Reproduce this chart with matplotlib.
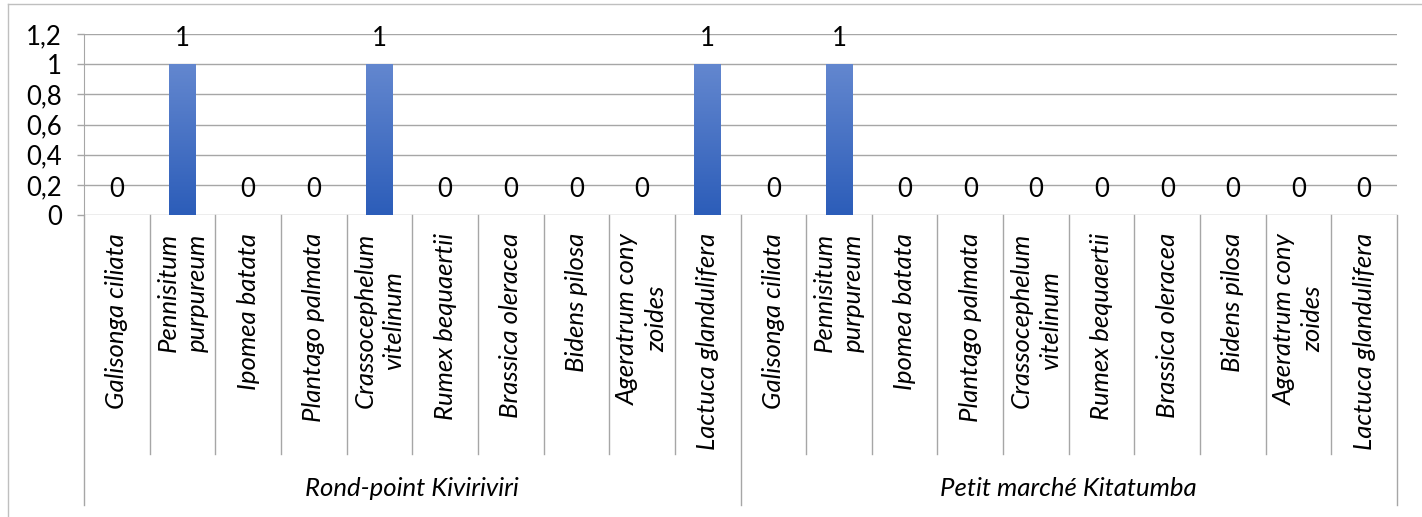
import matplotlib
matplotlib.use("Agg")
import matplotlib.pyplot as plt
import numpy as np
from matplotlib.lines import Line2D
from matplotlib.colors import LinearSegmentedColormap

plt.rcParams['font.family'] = ['Lato', 'DejaVu Sans']

species = ["Galisonga ciliata", "Pennisitum\npurpureum", "Ipomea batata", "Plantago palmata",
           "Crassocephelum\nvitelinum", "Rumex bequaertii", "Brassica oleracea", "Bidens pilosa",
           "Ageratrum cony\nzoides", "Lactuca glandulifera"]
groups = ["Rond-point Kiviriviri", "Petit marché Kitatumba"]
values_rond = [0, 1, 0, 0, 1, 0, 0, 0, 0, 1]
values_petit = [0, 1, 0, 0, 0, 0, 0, 0, 0, 0]
yticks = [0, 0.2, 0.4, 0.6, 0.8, 1.0, 1.2]
ytick_labels = ["0", "0,2", "0,4", "0,6", "0,8", "1", "1,2"]

W, H = 1422, 517
fig = plt.figure(figsize=(W / 100, H / 100), dpi=100)
L, R, T, B = 84, 1397, 34, 215
ax = fig.add_axes([L / W, 1 - B / H, (R - L) / W, (B - T) / H])

cats = species + species
vals = values_rond + values_petit
n = len(cats)
x = np.arange(n)
grid_c = "#A6A6A6"

bars = ax.bar(x, vals, width=0.41, color="#4472C4", zorder=3)
grad = np.linspace(0, 1, 256).reshape(-1, 1)
cmap = LinearSegmentedColormap.from_list("g", ["#2C5DB9", "#6387CF"])
for b, v in zip(bars, vals):
    if v > 0:
        x0, w = b.get_x(), b.get_width()
        im = ax.imshow(grad, cmap=cmap, extent=[x0, x0 + w, 0, v], origin="lower",
                       aspect="auto", zorder=4)
        im.set_clip_path(b)
        b.set_alpha(0)

for xi, v in zip(x, vals):
    ax.annotate(str(v), (xi, v), xytext=(0, 13), textcoords="offset points",
                ha="center", va="baseline", fontsize=18.5, color="black", zorder=5)

ax.set_xlim(-0.5, n - 0.5)
ax.set_ylim(0, 1.2)
ax.set_yticks(yticks)
ax.set_yticklabels(ytick_labels, fontsize=18.5)
ax.tick_params(axis="y", length=5, color=grid_c, pad=11, width=1)
ax.set_xticks([])
for yv in yticks:
    ax.axhline(yv, color=grid_c, lw=1, zorder=1)
for s in ["top", "right", "bottom"]:
    ax.spines[s].set_visible(False)
ax.spines["left"].set_color(grid_c)

tr = ax.get_xaxis_transform()
sep_short = -(454 - B) / (B - T)
sep_long = -(505 - B) / (B - T)
for i in range(n + 1):
    yb = sep_long if i in (0, 10, 20) else sep_short
    ax.add_line(Line2D([i - 0.5, i - 0.5], [0, yb], transform=tr, color=grid_c,
                       lw=1, clip_on=False))

lab_top = -(233 - B) / (B - T)
for xi, c in zip(x, cats):
    ax.text(xi, lab_top, c, transform=tr, rotation=90, ha="center", va="top",
            multialignment="center", fontsize=18.5, style="italic", linespacing=1.3)

grp_y = -(488 - B) / (B - T)
ax.text(4.5, grp_y, groups[0], transform=tr, ha="center", va="center",
        fontsize=18.5, style="italic")
ax.text(14.5, grp_y, groups[1], transform=tr, ha="center", va="center",
        fontsize=18.5, style="italic")

border_c = "#BFBFBF"
fig.add_artist(Line2D([8 / W, 1], [1 - 4 / H, 1 - 4 / H], transform=fig.transFigure,
                      color=border_c, lw=1))
fig.add_artist(Line2D([8 / W, 8 / W], [0, 1 - 4 / H], transform=fig.transFigure,
                      color=border_c, lw=1))

fig.savefig("out.png", dpi=100)
